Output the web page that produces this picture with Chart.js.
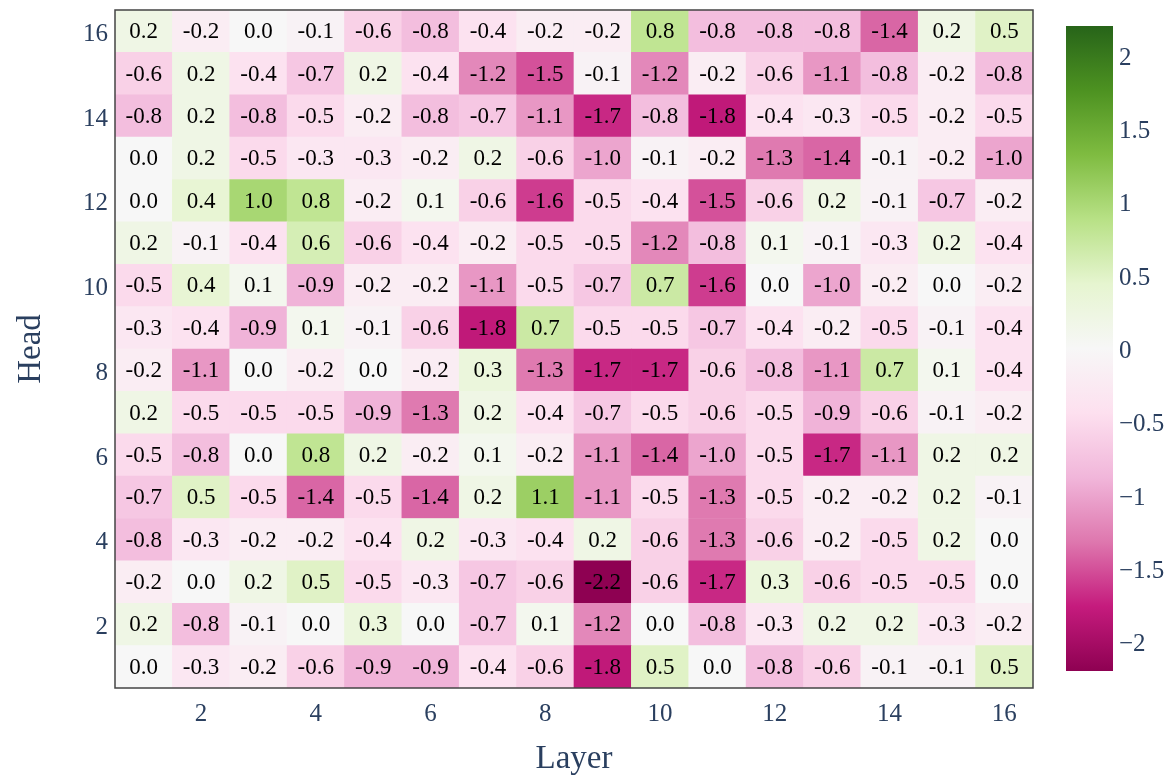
<!DOCTYPE html>
<html lang="en">
    <head>
        <meta charset="UTF-8">
        <title>Head x Layer heatmap</title>
        <script src="https://cdn.jsdelivr.net/npm/chart.js"></script>
        <style>
            body, html {
                margin: 0;
                padding: 0;
                background: #fff;
            }
            #heatBox {
                position: absolute;
                left: 0;
                top: 0;
                width: 1173px;
                height: 779px;
            }
            #barBox {
                position: absolute;
                left: 1040px;
                top: 0;
                width: 133px;
                height: 779px;
            }
        </style>
    </head>
    <body>
        <div id="heatBox"><canvas id="heatChart"></canvas></div>
        <div id="barBox"><canvas id="scaleChart"></canvas></div>

        <script>
            // data (rows = heads, columns = layers 1..16)
            const layers = ['1', '2', '3', '4', '5', '6', '7', '8', '9', '10', '11', '12', '13', '14', '15', '16'];
            const heads = [1, 2, 3, 4, 5, 6, 7, 8, 9, 10, 11, 12, 13, 14, 15, 16];

            const head1  = [0.0, -0.3, -0.2, -0.6, -0.9, -0.9, -0.4, -0.6, -1.8, 0.5, 0.0, -0.8, -0.6, -0.1, -0.1, 0.5];
            const head2  = [0.2, -0.8, -0.1, 0.0, 0.3, 0.0, -0.7, 0.1, -1.2, 0.0, -0.8, -0.3, 0.2, 0.2, -0.3, -0.2];
            const head3  = [-0.2, 0.0, 0.2, 0.5, -0.5, -0.3, -0.7, -0.6, -2.2, -0.6, -1.7, 0.3, -0.6, -0.5, -0.5, 0.0];
            const head4  = [-0.8, -0.3, -0.2, -0.2, -0.4, 0.2, -0.3, -0.4, 0.2, -0.6, -1.3, -0.6, -0.2, -0.5, 0.2, 0.0];
            const head5  = [-0.7, 0.5, -0.5, -1.4, -0.5, -1.4, 0.2, 1.1, -1.1, -0.5, -1.3, -0.5, -0.2, -0.2, 0.2, -0.1];
            const head6  = [-0.5, -0.8, 0.0, 0.8, 0.2, -0.2, 0.1, -0.2, -1.1, -1.4, -1.0, -0.5, -1.7, -1.1, 0.2, 0.2];
            const head7  = [0.2, -0.5, -0.5, -0.5, -0.9, -1.3, 0.2, -0.4, -0.7, -0.5, -0.6, -0.5, -0.9, -0.6, -0.1, -0.2];
            const head8  = [-0.2, -1.1, 0.0, -0.2, 0.0, -0.2, 0.3, -1.3, -1.7, -1.7, -0.6, -0.8, -1.1, 0.7, 0.1, -0.4];
            const head9  = [-0.3, -0.4, -0.9, 0.1, -0.1, -0.6, -1.8, 0.7, -0.5, -0.5, -0.7, -0.4, -0.2, -0.5, -0.1, -0.4];
            const head10 = [-0.5, 0.4, 0.1, -0.9, -0.2, -0.2, -1.1, -0.5, -0.7, 0.7, -1.6, 0.0, -1.0, -0.2, 0.0, -0.2];
            const head11 = [0.2, -0.1, -0.4, 0.6, -0.6, -0.4, -0.2, -0.5, -0.5, -1.2, -0.8, 0.1, -0.1, -0.3, 0.2, -0.4];
            const head12 = [0.0, 0.4, 1.0, 0.8, -0.2, 0.1, -0.6, -1.6, -0.5, -0.4, -1.5, -0.6, 0.2, -0.1, -0.7, -0.2];
            const head13 = [0.0, 0.2, -0.5, -0.3, -0.3, -0.2, 0.2, -0.6, -1.0, -0.1, -0.2, -1.3, -1.4, -0.1, -0.2, -1.0];
            const head14 = [-0.8, 0.2, -0.8, -0.5, -0.2, -0.8, -0.7, -1.1, -1.7, -0.8, -1.8, -0.4, -0.3, -0.5, -0.2, -0.5];
            const head15 = [-0.6, 0.2, -0.4, -0.7, 0.2, -0.4, -1.2, -1.5, -0.1, -1.2, -0.2, -0.6, -1.1, -0.8, -0.2, -0.8];
            const head16 = [0.2, -0.2, 0.0, -0.1, -0.6, -0.8, -0.4, -0.2, -0.2, 0.8, -0.8, -0.8, -0.8, -1.4, 0.2, 0.5];

            const headRows = [head1, head2, head3, head4, head5, head6, head7, head8,
                              head9, head10, head11, head12, head13, head14, head15, head16];

            const headTicks = [2, 4, 6, 8, 10, 12, 14, 16];
            const scaleTicks = [-2, -1.5, -1, -0.5, 0, 0.5, 1, 1.5, 2];
            const zMin = -2.2;
            const zMax = 2.2;

            // PiYG
            const piyg = [
                [0.0, [142, 1, 82]],
                [0.1, [197, 27, 125]],
                [0.2, [222, 119, 174]],
                [0.3, [241, 182, 218]],
                [0.4, [253, 224, 239]],
                [0.5, [247, 247, 247]],
                [0.6, [230, 245, 208]],
                [0.7, [184, 225, 134]],
                [0.8, [127, 188, 65]],
                [0.9, [77, 146, 33]],
                [1.0, [39, 100, 25]]
            ];

            const serif = '"Liberation Serif", "Times New Roman", serif';
            const inkColor = '#2a3f5f';

            function colorFor(v) {
                let t = (v - zMin) / (zMax - zMin);
                t = Math.max(0, Math.min(1, t));
                for (let i = 1; i < piyg.length; i++) {
                    if (t <= piyg[i][0]) {
                        const [t0, c0] = piyg[i - 1];
                        const [t1, c1] = piyg[i];
                        const f = (t - t0) / (t1 - t0);
                        const c = c0.map((x, k) => Math.round(x + (c1[k] - x) * f));
                        return `rgb(${c[0]}, ${c[1]}, ${c[2]})`;
                    }
                }
                return 'rgb(39, 100, 25)';
            }

            function fmtMinus(v) {
                return String(v).replace('-', '\u2212');
            }

            // text in cells + frame round the plot
            const cellText = {
                id: 'cellText',
                afterDatasetsDraw(chart) {
                    const ctx = chart.ctx;
                    ctx.save();
                    ctx.font = '23px ' + serif;
                    ctx.fillStyle = '#000';
                    ctx.textAlign = 'center';
                    ctx.textBaseline = 'middle';
                    chart.data.datasets.forEach((ds, i) => {
                        chart.getDatasetMeta(i).data.forEach((bar, j) => {
                            const p = bar.getCenterPoint();
                            ctx.fillText(ds.values[j].toFixed(1), p.x, p.y + 1);
                        });
                    });
                    const a = chart.chartArea;
                    ctx.strokeStyle = '#444';
                    ctx.lineWidth = 1.5;
                    ctx.strokeRect(a.left, a.top, a.right - a.left, a.bottom - a.top);
                    ctx.restore();
                }
            };

            new Chart(document.getElementById('heatChart'), {
                type: 'bar',
                data: {
                    labels: layers,
                    datasets: headRows.map((row, i) => ({
                        label: 'Head ' + heads[i],
                        data: row.map(() => [heads[i] - 0.5, heads[i] + 0.5]),
                        values: row,
                        backgroundColor: row.map(colorFor),
                        borderWidth: 0,
                        grouped: false,
                        barPercentage: 1,
                        categoryPercentage: 1
                    }))
                },
                options: {
                    responsive: true,
                    maintainAspectRatio: false,
                    animation: false,
                    layout: {
                        padding: { left: 0, top: 10, right: 140, bottom: 0 }
                    },
                    plugins: {
                        legend: { display: false },
                        tooltip: { enabled: false }
                    },
                    scales: {
                        x: {
                            grid: { display: false, drawTicks: false },
                            border: { display: false },
                            ticks: {
                                color: inkColor,
                                font: { family: serif, size: 25 },
                                padding: 11,
                                maxRotation: 0,
                                autoSkip: false,
                                callback: (val, idx) => (idx % 2 === 1 ? layers[idx] : '')
                            },
                            title: {
                                display: true,
                                text: 'Layer',
                                color: inkColor,
                                font: { family: serif, size: 33 },
                                padding: { top: 0, bottom: 0 }
                            },
                            afterFit: (scale) => {
                                scale.height = 91;
                                scale.paddingLeft = 0;
                                scale.paddingRight = 0;
                            }
                        },
                        y: {
                            type: 'linear',
                            min: 0.5,
                            max: 16.5,
                            grid: { display: false, drawTicks: false },
                            border: { display: false },
                            ticks: {
                                color: inkColor,
                                font: { family: serif, size: 25 },
                                padding: 7,
                                labelOffset: 3
                            },
                            afterBuildTicks: (scale) => {
                                scale.ticks = headTicks.map(v => ({ value: v }));
                            },
                            title: {
                                display: true,
                                text: 'Head',
                                color: inkColor,
                                font: { family: serif, size: 33 },
                                padding: { top: 12, bottom: 0 }
                            },
                            afterFit: (scale) => {
                                scale.width = 115;
                                scale.paddingTop = 0;
                                scale.paddingBottom = 0;
                            }
                        }
                    }
                },
                plugins: [cellText]
            });

            // colour bar
            function barGradient(context) {
                const chart = context.chart;
                const area = chart.chartArea;
                if (!area) return null;
                const y = chart.scales.y;
                const top = y.getPixelForValue(zMax);
                const bottom = y.getPixelForValue(zMin);
                const g = chart.ctx.createLinearGradient(0, bottom, 0, top);
                piyg.forEach(([t, c]) => g.addColorStop(t, `rgb(${c[0]}, ${c[1]}, ${c[2]})`));
                return g;
            }

            new Chart(document.getElementById('scaleChart'), {
                type: 'bar',
                data: {
                    labels: ['z'],
                    datasets: [{
                        data: [[zMin, zMax]],
                        backgroundColor: barGradient,
                        borderWidth: 0,
                        barPercentage: 1,
                        categoryPercentage: 1
                    }]
                },
                options: {
                    responsive: true,
                    maintainAspectRatio: false,
                    animation: false,
                    layout: {
                        padding: { left: 26, top: 26, right: 0, bottom: 108 }
                    },
                    plugins: {
                        legend: { display: false },
                        tooltip: { enabled: false }
                    },
                    scales: {
                        x: { display: false },
                        y: {
                            position: 'right',
                            min: zMin,
                            max: zMax,
                            grid: { display: false, drawTicks: false },
                            border: { display: false },
                            ticks: {
                                color: inkColor,
                                font: { family: serif, size: 25 },
                                padding: 6,
                                labelOffset: 3,
                                callback: (v) => fmtMinus(v)
                            },
                            afterBuildTicks: (scale) => {
                                scale.ticks = scaleTicks.map(v => ({ value: v }));
                            },
                            afterFit: (scale) => {
                                scale.width = 60;
                                scale.paddingTop = 0;
                                scale.paddingBottom = 0;
                            }
                        }
                    }
                }
            });
        </script>
    </body>
</html>
